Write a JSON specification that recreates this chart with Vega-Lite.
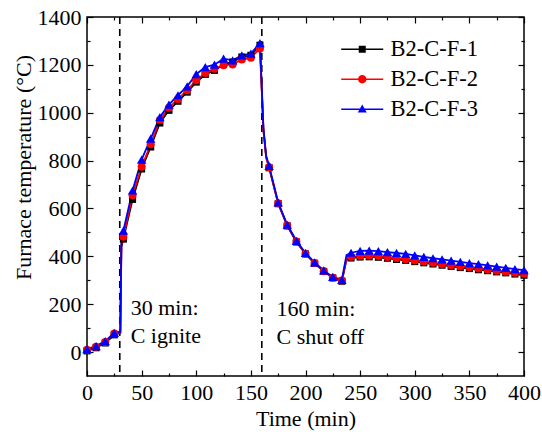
{
  "$schema": "https://vega.github.io/schema/vega-lite/v6.json",
  "width": 437,
  "height": 359,
  "autosize": {"type": "none"},
  "padding": {"left": 87, "top": 17, "right": 18, "bottom": 56},
  "background": "white",
  "config": {
    "view": {"stroke": "black", "strokeWidth": 1.5},
    "font": "Liberation Serif",
    "axis": {
      "domain": false, "grid": false,
      "labelFont": "Liberation Serif", "labelFontSize": 22, "labelColor": "black",
      "titleFont": "Liberation Serif", "titleFontSize": 22, "titleColor": "black", "titleFontWeight": "normal",
      "tickColor": "black", "tickWidth": 1.2,
      "labelOverlap": false, "labelBound": false, "labelFlush": false
    },
    "legend": {
      "title": null, "orient": "none", "legendX": 264, "legendY": 21, "padding": 0,
      "labelFont": "Liberation Serif", "labelFontSize": 22.5, "labelColor": "black",
      "symbolSize": 400, "symbolStrokeWidth": 0, "symbolOpacity": 1, "rowPadding": 7, "labelOffset": 17
    }
  },
  "datasets": {
    "readings": [
      {"series": "B2-C-F-1", "kind": "marker", "t": 0, "T": 5},
      {"series": "B2-C-F-1", "kind": "marker", "t": 8.3, "T": 18},
      {"series": "B2-C-F-1", "kind": "marker", "t": 16.7, "T": 38},
      {"series": "B2-C-F-1", "kind": "marker", "t": 25, "T": 72},
      {"series": "B2-C-F-1", "kind": "trace", "t": 30.5, "T": 80},
      {"series": "B2-C-F-1", "kind": "trace", "t": 31.5, "T": 440},
      {"series": "B2-C-F-1", "kind": "marker", "t": 33.3, "T": 472},
      {"series": "B2-C-F-1", "kind": "marker", "t": 41.7, "T": 638},
      {"series": "B2-C-F-1", "kind": "marker", "t": 50, "T": 765},
      {"series": "B2-C-F-1", "kind": "marker", "t": 58.3, "T": 857},
      {"series": "B2-C-F-1", "kind": "marker", "t": 66.7, "T": 957},
      {"series": "B2-C-F-1", "kind": "marker", "t": 75, "T": 1010},
      {"series": "B2-C-F-1", "kind": "marker", "t": 83.3, "T": 1048},
      {"series": "B2-C-F-1", "kind": "marker", "t": 91.7, "T": 1086},
      {"series": "B2-C-F-1", "kind": "marker", "t": 100, "T": 1128},
      {"series": "B2-C-F-1", "kind": "marker", "t": 108.3, "T": 1160},
      {"series": "B2-C-F-1", "kind": "marker", "t": 116.7, "T": 1177},
      {"series": "B2-C-F-1", "kind": "marker", "t": 125, "T": 1202},
      {"series": "B2-C-F-1", "kind": "marker", "t": 133.3, "T": 1212},
      {"series": "B2-C-F-1", "kind": "marker", "t": 141.7, "T": 1233},
      {"series": "B2-C-F-1", "kind": "marker", "t": 150, "T": 1240},
      {"series": "B2-C-F-1", "kind": "marker", "t": 158.3, "T": 1282},
      {"series": "B2-C-F-1", "kind": "trace", "t": 159.5, "T": 1150},
      {"series": "B2-C-F-1", "kind": "trace", "t": 161.5, "T": 930},
      {"series": "B2-C-F-1", "kind": "trace", "t": 164, "T": 815},
      {"series": "B2-C-F-1", "kind": "marker", "t": 166.7, "T": 770},
      {"series": "B2-C-F-1", "kind": "marker", "t": 175, "T": 620},
      {"series": "B2-C-F-1", "kind": "marker", "t": 183.3, "T": 527},
      {"series": "B2-C-F-1", "kind": "marker", "t": 191.7, "T": 460},
      {"series": "B2-C-F-1", "kind": "marker", "t": 200, "T": 410},
      {"series": "B2-C-F-1", "kind": "marker", "t": 208.3, "T": 371},
      {"series": "B2-C-F-1", "kind": "marker", "t": 216.7, "T": 337},
      {"series": "B2-C-F-1", "kind": "marker", "t": 225, "T": 310},
      {"series": "B2-C-F-1", "kind": "marker", "t": 233.3, "T": 296},
      {"series": "B2-C-F-1", "kind": "trace", "t": 237.5, "T": 385},
      {"series": "B2-C-F-1", "kind": "marker", "t": 241.7, "T": 393},
      {"series": "B2-C-F-1", "kind": "marker", "t": 250, "T": 397},
      {"series": "B2-C-F-1", "kind": "marker", "t": 258.3, "T": 398},
      {"series": "B2-C-F-1", "kind": "marker", "t": 266.7, "T": 396},
      {"series": "B2-C-F-1", "kind": "marker", "t": 275, "T": 392},
      {"series": "B2-C-F-1", "kind": "marker", "t": 283.3, "T": 387},
      {"series": "B2-C-F-1", "kind": "marker", "t": 291.7, "T": 383},
      {"series": "B2-C-F-1", "kind": "marker", "t": 300, "T": 378},
      {"series": "B2-C-F-1", "kind": "marker", "t": 308.3, "T": 373},
      {"series": "B2-C-F-1", "kind": "marker", "t": 316.7, "T": 368},
      {"series": "B2-C-F-1", "kind": "marker", "t": 325, "T": 363},
      {"series": "B2-C-F-1", "kind": "marker", "t": 333.3, "T": 358},
      {"series": "B2-C-F-1", "kind": "marker", "t": 341.7, "T": 353},
      {"series": "B2-C-F-1", "kind": "marker", "t": 350, "T": 349},
      {"series": "B2-C-F-1", "kind": "marker", "t": 358.3, "T": 344},
      {"series": "B2-C-F-1", "kind": "marker", "t": 366.7, "T": 340},
      {"series": "B2-C-F-1", "kind": "marker", "t": 375, "T": 335},
      {"series": "B2-C-F-1", "kind": "marker", "t": 383.3, "T": 331},
      {"series": "B2-C-F-1", "kind": "marker", "t": 391.7, "T": 326},
      {"series": "B2-C-F-1", "kind": "marker", "t": 400, "T": 321},

      {"series": "B2-C-F-2", "kind": "marker", "t": 0, "T": 10},
      {"series": "B2-C-F-2", "kind": "marker", "t": 8.3, "T": 22},
      {"series": "B2-C-F-2", "kind": "marker", "t": 16.7, "T": 42},
      {"series": "B2-C-F-2", "kind": "marker", "t": 25, "T": 78},
      {"series": "B2-C-F-2", "kind": "trace", "t": 30.5, "T": 82},
      {"series": "B2-C-F-2", "kind": "trace", "t": 31.5, "T": 450},
      {"series": "B2-C-F-2", "kind": "marker", "t": 33.3, "T": 482},
      {"series": "B2-C-F-2", "kind": "marker", "t": 41.7, "T": 655},
      {"series": "B2-C-F-2", "kind": "marker", "t": 50, "T": 774},
      {"series": "B2-C-F-2", "kind": "marker", "t": 58.3, "T": 868},
      {"series": "B2-C-F-2", "kind": "marker", "t": 66.7, "T": 970},
      {"series": "B2-C-F-2", "kind": "marker", "t": 75, "T": 1021},
      {"series": "B2-C-F-2", "kind": "marker", "t": 83.3, "T": 1057},
      {"series": "B2-C-F-2", "kind": "marker", "t": 91.7, "T": 1094},
      {"series": "B2-C-F-2", "kind": "marker", "t": 100, "T": 1136},
      {"series": "B2-C-F-2", "kind": "marker", "t": 108.3, "T": 1166},
      {"series": "B2-C-F-2", "kind": "marker", "t": 116.7, "T": 1184},
      {"series": "B2-C-F-2", "kind": "marker", "t": 125, "T": 1198},
      {"series": "B2-C-F-2", "kind": "marker", "t": 133.3, "T": 1202},
      {"series": "B2-C-F-2", "kind": "marker", "t": 141.7, "T": 1222},
      {"series": "B2-C-F-2", "kind": "marker", "t": 150, "T": 1230},
      {"series": "B2-C-F-2", "kind": "marker", "t": 158.3, "T": 1268},
      {"series": "B2-C-F-2", "kind": "trace", "t": 159.5, "T": 1140},
      {"series": "B2-C-F-2", "kind": "trace", "t": 161.5, "T": 925},
      {"series": "B2-C-F-2", "kind": "trace", "t": 164, "T": 812},
      {"series": "B2-C-F-2", "kind": "marker", "t": 166.7, "T": 772},
      {"series": "B2-C-F-2", "kind": "marker", "t": 175, "T": 622},
      {"series": "B2-C-F-2", "kind": "marker", "t": 183.3, "T": 529},
      {"series": "B2-C-F-2", "kind": "marker", "t": 191.7, "T": 462},
      {"series": "B2-C-F-2", "kind": "marker", "t": 200, "T": 411},
      {"series": "B2-C-F-2", "kind": "marker", "t": 208.3, "T": 372},
      {"series": "B2-C-F-2", "kind": "marker", "t": 216.7, "T": 338},
      {"series": "B2-C-F-2", "kind": "marker", "t": 225, "T": 311},
      {"series": "B2-C-F-2", "kind": "marker", "t": 233.3, "T": 299},
      {"series": "B2-C-F-2", "kind": "trace", "t": 237.5, "T": 390},
      {"series": "B2-C-F-2", "kind": "marker", "t": 241.7, "T": 398},
      {"series": "B2-C-F-2", "kind": "marker", "t": 250, "T": 402},
      {"series": "B2-C-F-2", "kind": "marker", "t": 258.3, "T": 403},
      {"series": "B2-C-F-2", "kind": "marker", "t": 266.7, "T": 401},
      {"series": "B2-C-F-2", "kind": "marker", "t": 275, "T": 397},
      {"series": "B2-C-F-2", "kind": "marker", "t": 283.3, "T": 392},
      {"series": "B2-C-F-2", "kind": "marker", "t": 291.7, "T": 388},
      {"series": "B2-C-F-2", "kind": "marker", "t": 300, "T": 383},
      {"series": "B2-C-F-2", "kind": "marker", "t": 308.3, "T": 378},
      {"series": "B2-C-F-2", "kind": "marker", "t": 316.7, "T": 373},
      {"series": "B2-C-F-2", "kind": "marker", "t": 325, "T": 368},
      {"series": "B2-C-F-2", "kind": "marker", "t": 333.3, "T": 363},
      {"series": "B2-C-F-2", "kind": "marker", "t": 341.7, "T": 358},
      {"series": "B2-C-F-2", "kind": "marker", "t": 350, "T": 354},
      {"series": "B2-C-F-2", "kind": "marker", "t": 358.3, "T": 349},
      {"series": "B2-C-F-2", "kind": "marker", "t": 366.7, "T": 345},
      {"series": "B2-C-F-2", "kind": "marker", "t": 375, "T": 340},
      {"series": "B2-C-F-2", "kind": "marker", "t": 383.3, "T": 336},
      {"series": "B2-C-F-2", "kind": "marker", "t": 391.7, "T": 331},
      {"series": "B2-C-F-2", "kind": "marker", "t": 400, "T": 327},

      {"series": "B2-C-F-3", "kind": "marker", "t": 0, "T": 12},
      {"series": "B2-C-F-3", "kind": "marker", "t": 8.3, "T": 25},
      {"series": "B2-C-F-3", "kind": "marker", "t": 16.7, "T": 46},
      {"series": "B2-C-F-3", "kind": "marker", "t": 25, "T": 80},
      {"series": "B2-C-F-3", "kind": "trace", "t": 30.5, "T": 85},
      {"series": "B2-C-F-3", "kind": "trace", "t": 31.5, "T": 480},
      {"series": "B2-C-F-3", "kind": "marker", "t": 33.3, "T": 507},
      {"series": "B2-C-F-3", "kind": "marker", "t": 41.7, "T": 675},
      {"series": "B2-C-F-3", "kind": "marker", "t": 50, "T": 804},
      {"series": "B2-C-F-3", "kind": "marker", "t": 58.3, "T": 892},
      {"series": "B2-C-F-3", "kind": "marker", "t": 66.7, "T": 982},
      {"series": "B2-C-F-3", "kind": "marker", "t": 75, "T": 1034},
      {"series": "B2-C-F-3", "kind": "marker", "t": 83.3, "T": 1073},
      {"series": "B2-C-F-3", "kind": "marker", "t": 91.7, "T": 1110},
      {"series": "B2-C-F-3", "kind": "marker", "t": 100, "T": 1161},
      {"series": "B2-C-F-3", "kind": "marker", "t": 108.3, "T": 1191},
      {"series": "B2-C-F-3", "kind": "marker", "t": 116.7, "T": 1201},
      {"series": "B2-C-F-3", "kind": "marker", "t": 125, "T": 1226},
      {"series": "B2-C-F-3", "kind": "marker", "t": 133.3, "T": 1219},
      {"series": "B2-C-F-3", "kind": "marker", "t": 141.7, "T": 1240},
      {"series": "B2-C-F-3", "kind": "marker", "t": 150, "T": 1247},
      {"series": "B2-C-F-3", "kind": "marker", "t": 158.3, "T": 1291},
      {"series": "B2-C-F-3", "kind": "trace", "t": 159.5, "T": 1160},
      {"series": "B2-C-F-3", "kind": "trace", "t": 161.5, "T": 935},
      {"series": "B2-C-F-3", "kind": "trace", "t": 164, "T": 820},
      {"series": "B2-C-F-3", "kind": "marker", "t": 166.7, "T": 778},
      {"series": "B2-C-F-3", "kind": "marker", "t": 175, "T": 625},
      {"series": "B2-C-F-3", "kind": "marker", "t": 183.3, "T": 532},
      {"series": "B2-C-F-3", "kind": "marker", "t": 191.7, "T": 465},
      {"series": "B2-C-F-3", "kind": "marker", "t": 200, "T": 414},
      {"series": "B2-C-F-3", "kind": "marker", "t": 208.3, "T": 375},
      {"series": "B2-C-F-3", "kind": "marker", "t": 216.7, "T": 341},
      {"series": "B2-C-F-3", "kind": "marker", "t": 225, "T": 314},
      {"series": "B2-C-F-3", "kind": "marker", "t": 233.3, "T": 302},
      {"series": "B2-C-F-3", "kind": "trace", "t": 237.5, "T": 405},
      {"series": "B2-C-F-3", "kind": "marker", "t": 241.7, "T": 415},
      {"series": "B2-C-F-3", "kind": "marker", "t": 250, "T": 423},
      {"series": "B2-C-F-3", "kind": "marker", "t": 258.3, "T": 424},
      {"series": "B2-C-F-3", "kind": "marker", "t": 266.7, "T": 422},
      {"series": "B2-C-F-3", "kind": "marker", "t": 275, "T": 418},
      {"series": "B2-C-F-3", "kind": "marker", "t": 283.3, "T": 414},
      {"series": "B2-C-F-3", "kind": "marker", "t": 291.7, "T": 410},
      {"series": "B2-C-F-3", "kind": "marker", "t": 300, "T": 404},
      {"series": "B2-C-F-3", "kind": "marker", "t": 308.3, "T": 398},
      {"series": "B2-C-F-3", "kind": "marker", "t": 316.7, "T": 392},
      {"series": "B2-C-F-3", "kind": "marker", "t": 325, "T": 387},
      {"series": "B2-C-F-3", "kind": "marker", "t": 333.3, "T": 382},
      {"series": "B2-C-F-3", "kind": "marker", "t": 341.7, "T": 377},
      {"series": "B2-C-F-3", "kind": "marker", "t": 350, "T": 372},
      {"series": "B2-C-F-3", "kind": "marker", "t": 358.3, "T": 367},
      {"series": "B2-C-F-3", "kind": "marker", "t": 366.7, "T": 362},
      {"series": "B2-C-F-3", "kind": "marker", "t": 375, "T": 357},
      {"series": "B2-C-F-3", "kind": "marker", "t": 383.3, "T": 352},
      {"series": "B2-C-F-3", "kind": "marker", "t": 391.7, "T": 347},
      {"series": "B2-C-F-3", "kind": "marker", "t": 400, "T": 342}
    ],
    "events": [
      {"t": 30, "event": "C ignite"},
      {"t": 160, "event": "C shut off"}
    ],
    "notes": [
      {"t": 40, "T": 155, "text": "30 min:"},
      {"t": 40, "T": 38, "text": "C ignite"},
      {"t": 173.5, "T": 152, "text": "160 min:"},
      {"t": 173.5, "T": 35, "text": "C shut off"}
    ]
  },
  "resolve": {"axis": {"x": "independent", "y": "independent"}},
  "layer": [
    {
      "data": {"name": "readings"},
      "transform": [{"filter": "datum.kind === 'marker'"}],
      "mark": {"type": "point", "filled": true, "opacity": 0},
      "encoding": {
        "x": {"field": "t", "type": "quantitative", "axis": null},
        "y": {"field": "T", "type": "quantitative", "axis": null},
        "color": {"field": "series", "type": "nominal"},
        "shape": {"field": "series", "type": "nominal",
          "scale": {"domain": ["B2-C-F-1", "B2-C-F-2", "B2-C-F-3"],
            "range": [
              "M-2.1,-0.08H2.1V0.08H-2.1ZM-0.35,-0.35H0.35V0.35H-0.35Z",
              "M-2.1,-0.08H2.1V0.08H-2.1ZM0.42,0A0.42,0.42,0,1,1,-0.42,0A0.42,0.42,0,1,1,0.42,0Z",
              "M-2.1,-0.08H2.1V0.08H-2.1ZM0,-0.47L0.45,0.32H-0.45Z"]}}
      }
    },
    {
      "data": {"name": "events"},
      "mark": {"type": "rule", "color": "black", "strokeWidth": 1.6, "strokeDash": [7, 5]},
      "encoding": {
        "x": {"field": "t", "type": "quantitative",
          "scale": {"domain": [0, 400], "nice": false, "zero": false},
          "axis": {"orient": "top", "labels": false, "title": null,
            "values": [0,25,50,75,100,125,150,175,200,225,250,275,300,325,350,375,400],
            "tickSize": {"condition": {"test": "datum.value % 50 === 0", "value": -6}, "value": -3}}}
      }
    },
    {
      "data": {"name": "readings"},
      "mark": {"type": "line", "strokeWidth": 1.8},
      "encoding": {
        "x": {"field": "t", "type": "quantitative",
          "axis": {"orient": "bottom", "title": "Time (min)", "titlePadding": 2, "labelPadding": 12,
            "labelFont": "Liberation Serif", "format": "d",
            "values": [0,25,50,75,100,125,150,175,200,225,250,275,300,325,350,375,400],
            "labelExpr": "datum.value % 50 === 0 ? datum.label : ''",
            "tickSize": {"condition": {"test": "datum.value % 50 === 0", "value": -6}, "value": -3}}},
        "y": {"field": "T", "type": "quantitative",
          "scale": {"domain": [-100, 1400], "nice": false, "zero": false},
          "axis": {"orient": "left", "title": "Furnace temperature (°C)", "titleX": -52, "titleY": 150,
            "titleAngle": -90, "titleBaseline": "bottom", "titleAlign": "center",
            "labelPadding": 12, "labelFont": "Liberation Serif", "format": "d",
            "values": [0,100,200,300,400,500,600,700,800,900,1000,1100,1200,1300,1400],
            "labelExpr": "datum.value % 200 === 0 ? datum.label : ''",
            "tickSize": {"condition": {"test": "datum.value % 200 === 0", "value": -6}, "value": -3}}},
        "color": {"field": "series", "type": "nominal",
          "scale": {"domain": ["B2-C-F-1", "B2-C-F-2", "B2-C-F-3"], "range": ["#000000", "#ff0000", "#0000ff"]}}
      }
    },
    {
      "data": {"name": "readings"},
      "transform": [{"filter": "datum.kind === 'marker' && datum.series === 'B2-C-F-1'"}],
      "mark": {"type": "point", "filled": true, "opacity": 1, "shape": "square", "size": 50},
      "encoding": {
        "x": {"field": "t", "type": "quantitative", "axis": null},
        "y": {"field": "T", "type": "quantitative", "axis": null},
        "color": {"field": "series", "type": "nominal"}
      }
    },
    {
      "data": {"name": "readings"},
      "transform": [{"filter": "datum.kind === 'marker' && datum.series === 'B2-C-F-2'"}],
      "mark": {"type": "point", "filled": true, "opacity": 1, "shape": "circle", "size": 64},
      "encoding": {
        "x": {"field": "t", "type": "quantitative", "axis": null},
        "y": {"field": "T", "type": "quantitative", "axis": null},
        "color": {"field": "series", "type": "nominal"}
      }
    },
    {
      "data": {"name": "readings"},
      "transform": [{"filter": "datum.kind === 'marker' && datum.series === 'B2-C-F-3'"}],
      "mark": {"type": "point", "filled": true, "opacity": 1, "shape": "triangle-up", "size": 90},
      "encoding": {
        "x": {"field": "t", "type": "quantitative", "axis": null},
        "y": {"field": "T", "type": "quantitative", "axis": null},
        "color": {"field": "series", "type": "nominal"}
      }
    },
    {
      "data": {"name": "notes"},
      "mark": {"type": "text", "align": "left", "baseline": "alphabetic", "font": "Liberation Serif", "fontSize": 22, "color": "black"},
      "encoding": {
        "x": {"field": "t", "type": "quantitative", "axis": null},
        "y": {"field": "T", "type": "quantitative",
          "axis": {"orient": "right", "labels": false, "title": null,
            "values": [0,100,200,300,400,500,600,700,800,900,1000,1100,1200,1300,1400],
            "tickSize": {"condition": {"test": "datum.value % 200 === 0", "value": -6}, "value": -3}}},
        "text": {"field": "text"}
      }
    }
  ]
}
